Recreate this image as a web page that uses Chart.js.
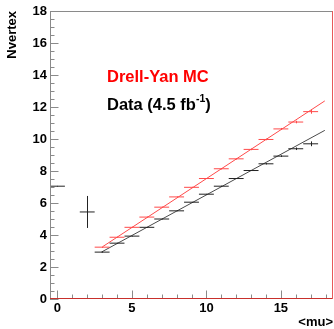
<!DOCTYPE html>
<html><head><meta charset="utf-8">
<script src="https://cdn.jsdelivr.net/npm/chart.js@4/dist/chart.umd.min.js"></script>
<style>html,body{margin:0;padding:0;background:#fff;}canvas{display:block}</style>
</head><body>
<div style="width:334px;height:329px;position:relative"><canvas id="c" width="334" height="329"></canvas></div>
<script>
// ---- data ----
const mcX   = [3,4,5,6,7,8,9,10,11,12,13,14,15,16,17];
const mcY   = [3.24,3.86,4.48,5.12,5.74,6.38,6.98,7.53,8.14,8.76,9.35,9.97,10.63,11.06,11.71];
const mcErr = [0.04,0.03,0.03,0.03,0.03,0.03,0.03,0.03,0.04,0.04,0.05,0.05,0.06,0.08,0.13];
const dataX   = [0,2,3,4,5,6,7,8,9,10,11,12,13,14,15,16,17];
const dataY   = [7.05,5.44,2.93,3.49,3.93,4.48,5.00,5.51,6.05,6.55,7.05,7.53,8.03,8.45,8.93,9.39,9.70];
const dataErr = [0.02,1.0,0.03,0.02,0.02,0.02,0.02,0.02,0.02,0.02,0.03,0.03,0.03,0.04,0.05,0.08,0.15];
const mcFitX = [3.05, 17.95];
const mcFitY = [3.28, 12.38];
const dataFitX = [2.95, 17.95];
const dataFitY = [2.93, 10.54];
const xTicks = [0,5,10,15];
const yTicks = [0,2,4,6,8,10,12,14,16,18];
const xMinor = [0,1,2,3,4,5,6,7,8,9,10,11,12,13,14,15,16,17,18];
const yMinor = [0,0.5,1,1.5,2,2.5,3,3.5,4,4.5,5,5.5,6,6.5,7,7.5,8,8.5,9,9.5,10,10.5,11,11.5,12,12.5,13,13.5,14,14.5,15,15.5,16,16.5,17,17.5,18];

const FONT = '"Liberation Sans", Arial, Helvetica, sans-serif';
const RED = '#ff4a4a', BLACK = '#222222';

const pts = (xs, ys) => xs.map((x,i)=>({x, y: ys[i]}));

const errPlugin = {
  id: 'errbars',
  afterDatasetsDraw(chart) {
    const {ctx, scales:{x, y}} = chart;
    ctx.save();
    ctx.lineWidth = 1;
    chart.data.datasets.forEach(ds => {
      if (!ds.errY) return;
      ctx.strokeStyle = ds.borderColor;
      ds.data.forEach((p,i) => {
        const px = Math.round(x.getPixelForValue(p.x)) + 0.5;
        const y1 = y.getPixelForValue(p.y - ds.errY[i]);
        const y2 = y.getPixelForValue(p.y + ds.errY[i]);
        ctx.beginPath(); ctx.moveTo(px, y1); ctx.lineTo(px, y2); ctx.stroke();
      });
    });
    ctx.restore();
  }
};

const framePlugin = {
  id: 'frame',
  afterDraw(chart) {
    const {ctx, chartArea:a, scales:{x, y}} = chart;
    ctx.save();
    ctx.lineWidth = 1;
    ctx.strokeStyle = '#8a8a8a';
    ctx.beginPath();
    ctx.moveTo(a.left + 0.5, a.bottom); ctx.lineTo(a.left + 0.5, a.top + 0.5); ctx.lineTo(a.right, a.top + 0.5);
    ctx.stroke();
    yMinor.forEach(v => {
      const py = Math.round(y.getPixelForValue(v)) + 0.5;
      const len = yTicks.includes(v) ? 8.5 : 4.5;
      ctx.beginPath(); ctx.moveTo(a.left, py); ctx.lineTo(a.left + len, py); ctx.stroke();
    });
    xMinor.forEach(v => {
      const px = Math.round(x.getPixelForValue(v)) + 0.5;
      const len = xTicks.includes(v) ? 8.5 : 4.5;
      ctx.beginPath(); ctx.moveTo(px, a.bottom); ctx.lineTo(px, a.bottom - len); ctx.stroke();
    });
    ctx.strokeStyle = '#c8302c';
    ctx.beginPath(); ctx.moveTo(a.left, a.bottom - 0.5); ctx.lineTo(a.right, a.bottom - 0.5); ctx.stroke();
    ctx.strokeStyle = '#e8585a';
    ctx.beginPath(); ctx.moveTo(a.right - 0.5, a.top); ctx.lineTo(a.right - 0.5, a.bottom); ctx.stroke();
    ctx.textBaseline = 'middle';
    ctx.textAlign = 'left';
    const lx = a.left + 57;
    ctx.fillStyle = '#ff0000';
    ctx.font = 'bold 16.5px ' + FONT;
    ctx.fillText('Drell-Yan MC', lx, 77);
    ctx.fillStyle = '#000000';
    const t1 = 'Data (4.5 fb';
    ctx.fillText(t1, lx, 105);
    let w = ctx.measureText(t1).width;
    ctx.font = 'bold 10.5px ' + FONT;
    ctx.fillText('-1', lx + w, 99);
    w += ctx.measureText('-1').width;
    ctx.font = 'bold 16.5px ' + FONT;
    ctx.fillText(')', lx + w, 105);
    ctx.restore();
  }
};

new Chart(document.getElementById('c'), {
  type: 'scatter',
  data: {
    datasets: [
      { type:'line', data: pts(mcFitX, mcFitY), borderColor: '#ff4a4a', borderWidth: 1, pointRadius: 0, fill: false, order: 3 },
      { type:'line', data: pts(dataFitX, dataFitY), borderColor: '#4a4a4a', borderWidth: 1, pointRadius: 0, fill: false, order: 3 },
      { data: pts(mcX, mcY), errY: mcErr, borderColor: RED, backgroundColor: RED, pointStyle: 'line', pointRadius: 7.45, pointHoverRadius: 7.45, borderWidth: 1, order: 1 },
      { data: pts(dataX, dataY), errY: dataErr, borderColor: BLACK, backgroundColor: BLACK, pointStyle: 'line', pointRadius: 7.45, pointHoverRadius: 7.45, borderWidth: 1, order: 1 }
    ]
  },
  options: {
    responsive: false,
    devicePixelRatio: 1,
    animation: false,
    events: [],
    layout: { autoPadding: false, padding: { left: 0, right: 1, top: 11, bottom: 0 } },
    plugins: { legend: { display: false }, tooltip: { enabled: false } },
    scales: {
      x: {
        type: 'linear', min: -0.5, max: 18.5,
        afterBuildTicks: s => { s.ticks = xTicks.map(v => ({ value: v })); },
        afterFit: s => { s.height = 30; s.paddingLeft = 0; s.paddingRight = 0; },
        grid: { display: false, drawTicks: false },
        border: { display: false },
        ticks: { padding: 2, color: '#000', font: { family: FONT, weight: 'bold', size: 13 }, maxRotation: 0, autoSkip: false },
        title: { display: true, text: '<mu>', align: 'end', color: '#000', font: { family: FONT, weight: 'bold', size: 13, lineHeight: 1 }, padding: { top: 0, bottom: 0 } }
      },
      y: {
        type: 'linear', min: 0, max: 18,
        afterBuildTicks: s => { s.ticks = yTicks.map(v => ({ value: v })); },
        afterFit: s => { s.width = 50; s.paddingTop = 0; s.paddingBottom = 0; },
        grid: { display: false, drawTicks: false },
        border: { display: false },
        ticks: { padding: 3, color: '#000', font: { family: FONT, weight: 'bold', size: 13 } },
        title: { display: true, text: 'Nvertex', align: 'end', color: '#000', font: { family: FONT, weight: 'bold', size: 13, lineHeight: 1 }, padding: { top: 6, bottom: 0 } }
      }
    }
  },
  plugins: [errPlugin, framePlugin]
});
</script>
</body></html>
